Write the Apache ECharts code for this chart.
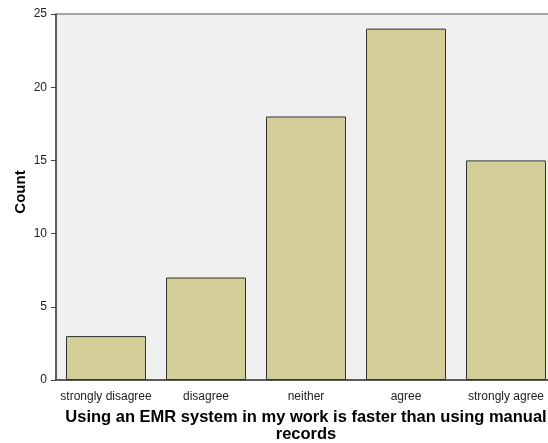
<!DOCTYPE html>
<html><head><meta charset="utf-8">
<script src="https://cdn.jsdelivr.net/npm/echarts@6/dist/echarts.min.js"></script>
<style>html,body{margin:0;padding:0;background:#fff}#c{width:548px;height:443px}</style>
</head><body><div id="c"></div>
<script>
var categories = ['strongly disagree', 'disagree', 'neither', 'agree', 'strongly agree'];
var counts = [3, 7, 18, 24, 15];
var yTicks = [0, 5, 10, 15, 20, 25];
var xTitle = 'Using an EMR system in my work is faster than using manual\nrecords';
var yTitle = 'Count';

var chart = echarts.init(document.getElementById('c'), null, {renderer: 'canvas'});
chart.setOption({
  animation: false,
  grid: {left: 56, width: 500, top: 14, bottom: 63, show: true, backgroundColor: '#f0f0f0', borderColor: '#555', borderWidth: 1, outerBoundsMode: 'none', containLabel: false},
  xAxis: {
    type: 'category', data: categories,
    axisLine: {lineStyle: {color: '#444', width: 1.5}},
    axisTick: {alignWithLabel: true, length: 5, lineStyle: {color: '#444'}},
    axisLabel: {interval: 0, color: '#222', fontSize: 12, fontFamily: 'Arial, Liberation Sans', margin: 11},
    name: xTitle, nameLocation: 'middle', nameGap: 29,
    nameTextStyle: {fontSize: 16.5, fontWeight: 'bold', color: '#000', fontFamily: 'Arial, Liberation Sans', lineHeight: 17}
  },
  yAxis: {
    type: 'value', min: yTicks[0], max: yTicks[yTicks.length - 1], interval: 5,
    splitLine: {show: false},
    axisLine: {show: true, lineStyle: {color: '#444', width: 1.5}},
    axisTick: {show: true, length: 5, lineStyle: {color: '#444'}},
    axisLabel: {color: '#222', fontSize: 12, fontFamily: 'Arial, Liberation Sans', margin: 9},
    name: yTitle, nameLocation: 'middle', nameGap: 28, nameMoveOverlap: false,
    nameTextStyle: {fontSize: 15, fontWeight: 'bold', color: '#000', fontFamily: 'Arial, Liberation Sans', padding: [0, 0, 0, 10]}
  },
  series: [{
    type: 'bar', data: counts, barWidth: '80%',
    itemStyle: {color: '#d3ce97', borderColor: '#333', borderWidth: 1}
  }]
});
</script></body></html>
